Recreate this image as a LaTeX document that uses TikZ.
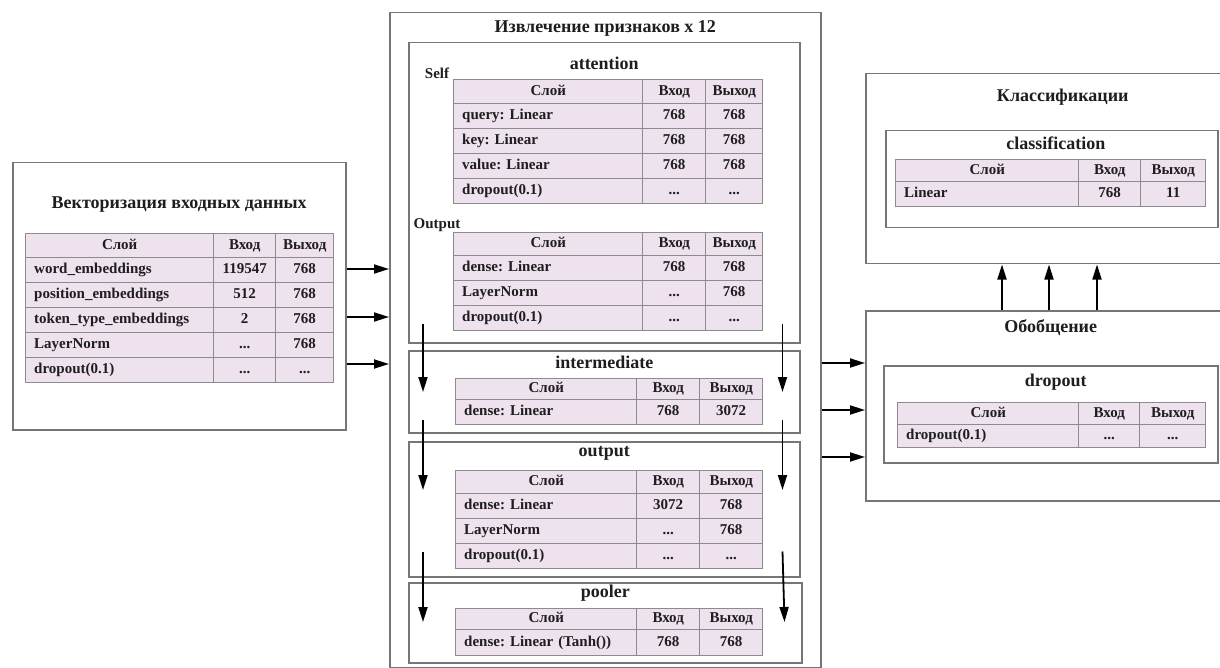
\documentclass[tikz,border=0pt]{standalone}
\usepackage{fontspec}
\setmainfont{Liberation Serif}
\frenchspacing
\usetikzlibrary{arrows.meta, matrix, positioning}
\definecolor{boxgray}{RGB}{118,118,118}
\definecolor{cellgray}{RGB}{140,140,140}
\definecolor{tabfill}{RGB}{237,226,238}
\definecolor{inkgray}{RGB}{30,30,30}
\tikzset{
    cluster/.style={
        draw=boxgray,
        line width=1.5pt,
        fill=white,
        anchor=north west,
        inner sep=0pt
    },
    ctitle/.style={
        font=\fontsize{18}{20}\selectfont\bfseries,
        text=inkgray,
        inner sep=0pt
    },
    sublabel/.style={
        font=\fontsize{15}{17}\selectfont\bfseries,
        text=inkgray,
        inner sep=0pt
    },
    layertab/.style n args={3}{
        matrix of nodes,
        anchor=north west,
        inner sep=0pt,
        column sep=-1pt,
        row sep=-1pt,
        nodes={
            draw=cellgray,
            line width=1pt,
            fill=tabfill,
            text=inkgray,
            font=\fontsize{15}{17}\selectfont\bfseries,
            text height=10.5pt,
            text depth=3.5pt,
            inner xsep=4pt,
            inner ysep=0pt,
            align=center,
            anchor=center
        },
        column 1/.style={nodes={text width=#1, align=left, inner xsep=8.5pt}},
        column 2/.style={nodes={text width=#2}},
        column 3/.style={nodes={text width=#3}},
        row 1 column 1/.style={nodes={align=center}}
    },
    tabrows/.style 2 args={
        nodes={minimum height=#2},
        row 1/.style={nodes={minimum height=#1}}
    },
    flow/.style={
        draw=black,
        line width=1.8pt,
        -{Triangle[length=15pt,width=9pt]}
    }
}

\begin{document}
\begin{tikzpicture}[x=1pt, y=-1pt]

\fill[white] (0,0) rectangle (1220,668);
\useasboundingbox (0,0) rectangle (1220,668);

% Input vectorization
\node[cluster, minimum width=333pt, minimum height=267pt] (vecbox) at (12,162) {};
\node[ctitle] (vectitle) at ([yshift=-43pt]vecbox.north) {Векторизация входных данных};
\matrix[layertab={171pt}{54pt}{50pt}, tabrows={24pt}{25pt}] (vectab) at (25,233) {
    Слой & Вход & Выход \\
    word\_embeddings & 119547 & 768 \\
    position\_embeddings & 512 & 768 \\
    token\_type\_embeddings & 2 & 768 \\
    LayerNorm & ... & 768 \\
    dropout(0.1) & ... & ... \\
};

% Feature extraction x 12
\node[cluster, minimum width=431pt, minimum height=655pt] (featbox) at (389,12) {};
\node[ctitle] (feattitle) at ([yshift=-16pt]featbox.north) {Извлечение признаков x 12};

% attention
\node[cluster, minimum width=391pt, minimum height=300pt] (attnbox) at (408,42) {};
\node[ctitle] (attntitle) at ([yshift=-21pt]attnbox.north) {attention};
\node[sublabel] (selflabel) at ([shift={(29pt,-31pt)}]attnbox.north west) {Self};
\matrix[layertab={172pt}{55pt}{49pt}, tabrows={24pt}{25pt}] (selftab) at (453,79) {
    Слой & Вход & Выход \\
    query: Linear & 768 & 768 \\
    key: Linear & 768 & 768 \\
    value: Linear & 768 & 768 \\
    dropout(0.1) & ... & ... \\
};
\node[sublabel] (outlabel) at ([shift={(29pt,-183pt)}]attnbox.north west) {Output};
\matrix[layertab={172pt}{55pt}{49pt}, tabrows={23pt}{25pt}] (attouttab) at (453,232) {
    Слой & Вход & Выход \\
    dense: Linear & 768 & 768 \\
    LayerNorm & ... & 768 \\
    dropout(0.1) & ... & ... \\
};

% intermediate
\node[cluster, minimum width=391pt, minimum height=82pt] (interbox) at (408,350) {};
\node[ctitle] (intertitle) at ([yshift=-12pt]interbox.north) {intermediate};
\matrix[layertab={164pt}{55pt}{55pt}, tabrows={21pt}{25pt}] (intertab) at (455,378) {
    Слой & Вход & Выход \\
    dense: Linear & 768 & 3072 \\
};

% output
\node[cluster, minimum width=391pt, minimum height=135pt] (outbox) at (408,441) {};
\node[ctitle] (outtitle) at ([yshift=-12pt]outbox.north) {output};
\matrix[layertab={164pt}{55pt}{55pt}, tabrows={23pt}{25pt}] (outtab) at (455,470) {
    Слой & Вход & Выход \\
    dense: Linear & 3072 & 768 \\
    LayerNorm & ... & 768 \\
    dropout(0.1) & ... & ... \\
};

% pooler
\node[cluster, minimum width=393pt, minimum height=80pt] (poolbox) at (408,582) {};
\node[ctitle] (pooltitle) at ([yshift=-11pt]poolbox.north) {pooler};
\matrix[layertab={164pt}{55pt}{55pt}, tabrows={21pt}{26pt}] (pooltab) at (455,608) {
    Слой & Вход & Выход \\
    dense: Linear (Tanh()) & 768 & 768 \\
};

% Classification
\node[cluster, minimum width=394pt, minimum height=190pt] (classbox) at (865,73) {};
\node[ctitle] (classtitle) at ([yshift=-24pt]classbox.north) {Классификации};
\node[cluster, minimum width=332pt, minimum height=97pt] (clsbox) at (885,130) {};
\node[ctitle] (clstitle) at ([shift={(4pt,-13pt)}]clsbox.north) {classification};
\matrix[layertab={166pt}{54pt}{57pt}, tabrows={22pt}{25pt}] (clstab) at (895,159) {
    Слой & Вход & Выход \\
    Linear & 768 & 11 \\
};

% Generalization
\node[cluster, minimum width=370pt, minimum height=190pt] (genbox) at (865,310) {};
\node[ctitle] (gentitle) at ([yshift=-18pt]genbox.north) {Обобщение};
\node[cluster, minimum width=334pt, minimum height=97pt] (dropbox) at (883,365) {};
\node[ctitle] (droptitle) at ([shift={(5pt,-17pt)}]dropbox.north) {dropout};
\matrix[layertab={164pt}{53pt}{58pt}, tabrows={22pt}{23pt}] (droptab) at (897,402) {
    Слой & Вход & Выход \\
    dropout(0.1) & ... & ... \\
};

% Connections
\foreach \y in {269,317,364}
    \draw[flow] (vecbox.east |- 0,\y) -- (featbox.west |- 0,\y);
\foreach \y in {363,410,457}
    \draw[flow] (featbox.east |- 0,\y) -- (genbox.west |- 0,\y);
\foreach \x in {1002,1049,1097}
    \draw[flow] (genbox.north -| \x,0) -- (classbox.south -| \x,0);
\foreach \a/\b/\s/\e in {attnbox/interbox/20pt/42pt, interbox/outbox/14pt/49pt, outbox/poolbox/26pt/40pt} {
    \draw[flow] ([xshift=15pt, yshift=\s]\a.south west) -- ([xshift=15pt, yshift=-\e]\b.north west);
    \draw[flow] ([xshift=-18pt, yshift=\s]\a.south east) -- ([xshift=-18pt, yshift=-\e]\b.north east);
}

\end{tikzpicture}
\end{document}
